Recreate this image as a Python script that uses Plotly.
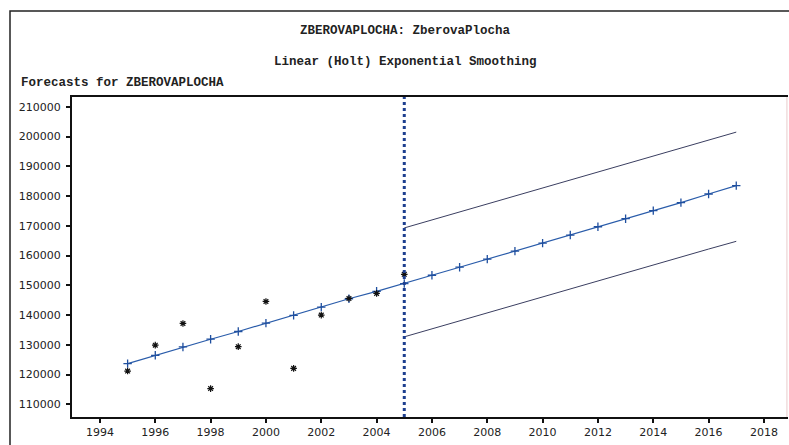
import plotly.graph_objects as go

# ---- data ----
actual_years = [1995, 1996, 1997, 1998, 1999, 2000, 2001, 2002, 2003, 2004, 2005]
actual_vals = [121200, 129900, 137200, 115300, 129400, 144600, 122100, 140000, 145600, 147300, 153700]

fc_years = list(range(1995, 2018))
fc_vals = [123700, 126500, 129300, 131900, 134500, 137300, 139900, 142700, 145500, 148000,
           150600, 153400, 156100, 158800, 161500, 164200, 166900, 169700, 172400, 175100,
           177800, 180700, 183500]

band_years = list(range(2005, 2018))
upper_vals = [169300, 172000, 174700, 177400, 180000, 182700, 185400, 188100, 190700,
              193400, 196100, 198800, 201500]
lower_vals = [132700, 135400, 138000, 140700, 143400, 146100, 148800, 151500, 154100,
              156800, 159500, 162200, 164800]

x_ticks = list(range(1994, 2019, 2))
y_ticks = list(range(110000, 210001, 10000))
forecast_start = 2005

title1 = "ZBEROVAPLOCHA: ZberovaPlocha"
title2 = "Linear (Holt) Exponential Smoothing"
title3 = "Forecasts for ZBEROVAPLOCHA"

W, H = 789, 445
L, R, T, B = 72, 1, 97, 28

fig = go.Figure()

fig.add_trace(go.Scatter(x=band_years, y=upper_vals, mode="lines",
                         line=dict(color="#3a3e60", width=1), showlegend=False))
fig.add_trace(go.Scatter(x=band_years, y=lower_vals, mode="lines",
                         line=dict(color="#3a3e60", width=1), showlegend=False))
fig.add_trace(go.Scatter(x=fc_years, y=fc_vals, mode="lines+markers",
                         line=dict(color="#2a5caa", width=1.2),
                         marker=dict(symbol="cross-thin-open", size=6, color="#1f4f9f",
                                     line=dict(color="#1f4f9f", width=1.3)),
                         showlegend=False))
fig.add_trace(go.Scatter(x=actual_years, y=actual_vals, mode="markers",
                         marker=dict(symbol="asterisk-open", size=5.5, color="#111111",
                                     line=dict(color="#111111", width=1.2)),
                         showlegend=False))

# forecast start reference line
fig.add_shape(type="line", xref="x", yref="paper", x0=forecast_start, x1=forecast_start,
              y0=0, y1=1, line=dict(color="#1d3f8f", width=3, dash="dot"))

# right plot border (faint)
fig.add_shape(type="line", xref="paper", yref="paper", x0=0.9985, x1=0.9985, y0=0, y1=1,
              line=dict(color="#e8cccc", width=1))

# outer frame (cut at right/bottom edges)
pw = W - L - R
ph = H - T - B
fx0 = (10 - L) / pw
fy1 = (H - B - 11) / ph
fig.add_shape(type="rect", xref="paper", yref="paper", x0=fx0, x1=1.2, y0=-0.3, y1=fy1,
              line=dict(color="#222222", width=1.5), layer="below")

tfont = dict(family="Liberation Mono", size=12.5, color="#222222")
fig.add_annotation(text="<b>" + title1 + "</b>", xref="paper", yref="paper",
                   x=(405 - L) / pw, y=(H - B - 30.5) / ph, showarrow=False,
                   xanchor="center", yanchor="middle", font=tfont)
fig.add_annotation(text="<b>" + title2 + "</b>", xref="paper", yref="paper",
                   x=(405 - L) / pw, y=(H - B - 61.5) / ph, showarrow=False,
                   xanchor="center", yanchor="middle", font=tfont)
fig.add_annotation(text="<b>" + title3 + "</b>", xref="paper", yref="paper",
                   x=(19 - L) / pw, y=(H - B - 82.7) / ph, showarrow=False,
                   xanchor="left", yanchor="middle", font=tfont)

tickfont = dict(family="DejaVu Sans", size=11, color="#222222")
fig.update_xaxes(range=[1992.99, 2018.87], tickmode="array", tickvals=x_ticks,
                 ticktext=[str(v) for v in x_ticks], ticks="outside", ticklen=4,
                 tickwidth=2, tickcolor="#111111", showline=True, linecolor="#111111",
                 linewidth=2, mirror=True, showgrid=False, zeroline=False,
                 tickfont=tickfont)
fig.update_yaxes(range=[105760, 213300], tickmode="array", tickvals=y_ticks,
                 ticktext=[str(v) for v in y_ticks], ticks="outside", ticklen=4,
                 tickwidth=2, tickcolor="#111111", showline=True, linecolor="#111111",
                 linewidth=2, showgrid=False, zeroline=False, tickfont=tickfont,
                 ticklabelstandoff=3)

fig.update_layout(width=W, height=H, margin=dict(l=L, r=R, t=T, b=B),
                  paper_bgcolor="white", plot_bgcolor="white", showlegend=False)

fig.write_html("out.html", config={"displayModeBar": False},
               post_script="document.body.style.margin='0';document.body.style.overflow='hidden';")
